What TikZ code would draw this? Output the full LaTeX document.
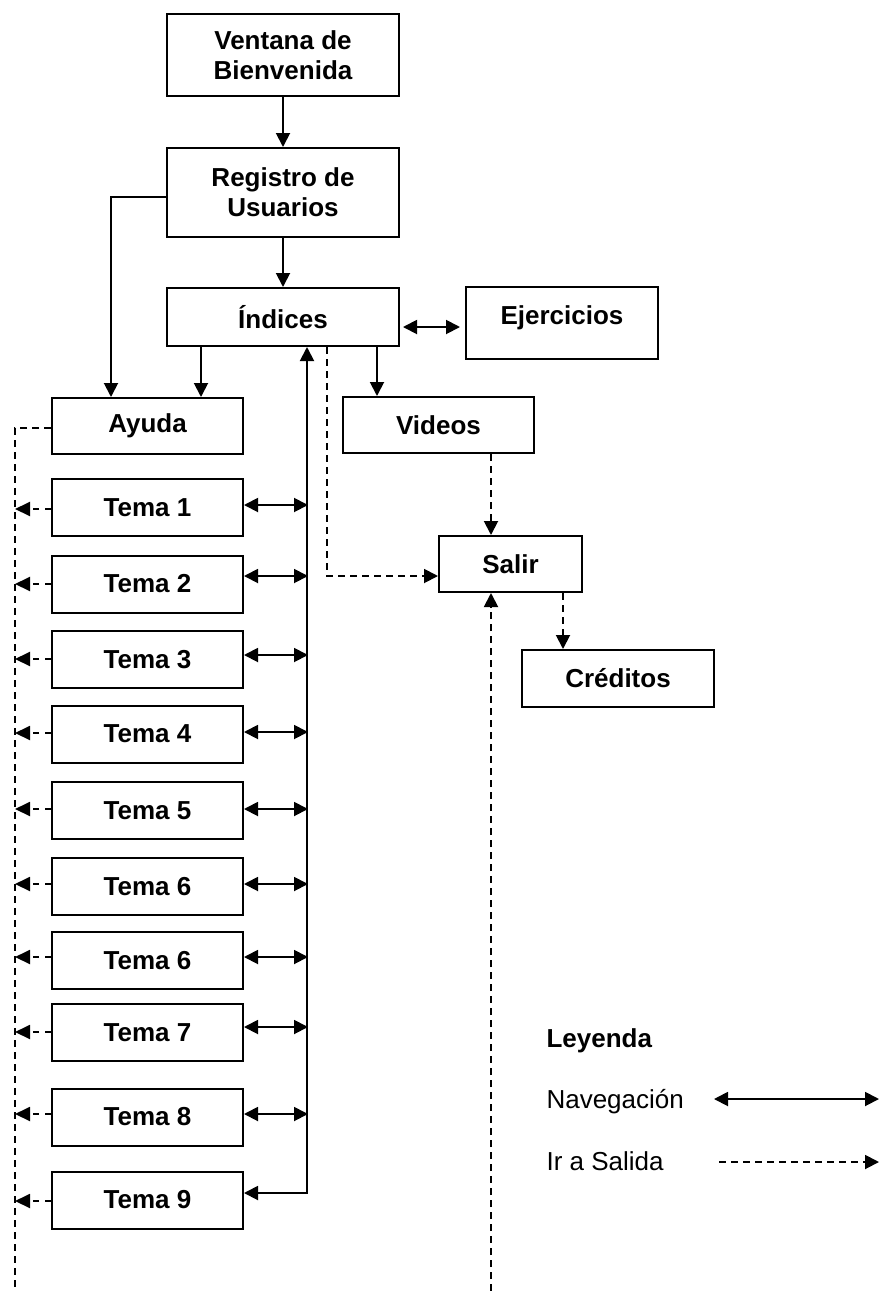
\documentclass[tikz,border=0pt]{standalone}
\usepackage{fontspec}
\setmainfont{Liberation Sans}
\usetikzlibrary{arrows.meta,calc}
\begin{document}
\begin{tikzpicture}[x=1pt,y=-1pt,
  every node/.style={font=\fontsize{26}{30}\selectfont},
  box/.style={draw,line width=2pt,align=center,inner sep=0pt,font=\fontsize{26}{30}\selectfont\bfseries},
  tema/.style={box,minimum width=191pt,minimum height=57pt},
  nav/.style={line width=1.9pt,-{Triangle[length=14pt,width=14pt]}},
  dbl/.style={line width=1.9pt,{Triangle[length=14pt,width=14pt]}-{Triangle[length=14pt,width=14pt]}},
  dsh/.style={line width=1.9pt,dash pattern=on 7pt off 5pt},
  dsharr/.style={dsh,-{Triangle[length=14pt,width=14pt]}},
  shortexit/.style={line width=1.9pt,dash pattern=on 6pt off 6pt,-{Triangle[length=15pt,width=14pt]}}]
\useasboundingbox (0,0) rectangle (881,1291);

% main chain
\node[box,minimum width=232pt,minimum height=82pt] (ven) at (283,55) {Ventana de\\Bienvenida};
\node[box,minimum width=232pt,minimum height=89pt] (reg) at (283,192.5) {Registro de\\Usuarios};
\node[box,minimum width=232pt,minimum height=58pt] (ind) at (283,317) {Índices};
\node[box,minimum width=192pt,minimum height=72pt] (ej) at (562,323) {};
\node[font=\fontsize{26}{30}\selectfont\bfseries,anchor=base] (ejt) at (562,324) {Ejercicios};
\node[box,minimum width=191pt,minimum height=56pt] (ay) at (147.5,426) {Ayuda};
\node[box,minimum width=191pt,minimum height=56pt] (vid) at (438.5,425) {Videos};
\node[box,minimum width=143pt,minimum height=56pt] (sal) at (510.5,564) {Salir};
\node[box,minimum width=192pt,minimum height=57pt] (cre) at (618,678.5) {Créditos};

% topic boxes
\node[tema] (t1) at (147.5,507.5) {Tema 1};
\node[tema] (t2) at (147.5,584) {Tema 2};
\node[tema] (t3) at (147.5,659.5) {Tema 3};
\node[tema] (t4) at (147.5,734) {Tema 4};
\node[tema] (t5) at (147.5,810.5) {Tema 5};
\node[tema] (t6) at (147.5,886.5) {Tema 6};
\node[tema] (t6b) at (147.5,960.5) {Tema 6};
\node[tema] (t7) at (147.5,1032.5) {Tema 7};
\node[tema] (t8) at (147.5,1117) {Tema 8};
\node[tema] (t9) at (147.5,1200) {Tema 9};

% free ends of the exit lines
\coordinate (leftend) at (15,1291);
\coordinate (salend) at (491,1291);

% navigation
\draw[nav] (ven) -- (reg);
\draw[nav] (reg) -- (ind);
\draw[nav] ([yshift=-4.5pt]reg.west) -| ([xshift=-36.5pt]ay.north);
\draw[nav] ([xshift=-82pt]ind.south) -- ([xshift=53.5pt]ay.north);
\draw[nav] ([xshift=94pt]ind.south) -- ([xshift=-61.5pt]vid.north);
\draw[dbl,shorten <=3pt,shorten >=5pt] ([yshift=-10pt]ind.east) -- ([yshift=-4pt]ej.west);

% bus from the topics back to the index
\draw[dbl] ([xshift=24pt]ind.south) |- ([yshift=7pt]t9.east);
\foreach \t/\d in {t1/-2.5,t2/-8,t3/-4.5,t4/-2,t5/-1.5,t6/-2.5,t6b/-3.5,t7/-5.5,t8/-3}{
  \draw[dbl] ($(\t.east)+(0,\d)$) -- ($(\t.east)+(64,\d)$);
}

% exit paths
\draw[dsh] ([yshift=-2pt]ay.west) -| (leftend);
\foreach \t/\d in {t1/1.5,t2/0,t3/-0.5,t4/-1,t5/-1.5,t6/-2.5,t6b/-3.5,t7/-0.5,t8/-3,t9/1}{
  \draw[shortexit] ($(\t.west)+(0,\d)$) -- ($(\t.west)+(-36,\d)$);
}
\draw[dsharr] ([xshift=52.5pt]vid.south) -- ([xshift=-19.5pt]sal.north);
\draw[dsharr] ([xshift=44pt]ind.south) |- ([yshift=-12pt]sal.west);
\draw[dsharr] ([xshift=52.5pt]sal.south) -- ([xshift=-55pt]cre.north);
\draw[dsharr] (salend) -- ([xshift=-19.5pt]sal.south);

% legend
\node[anchor=base west,font=\fontsize{26}{30}\selectfont\bfseries] (ley) at (543,1047) {Leyenda};
\node[anchor=base west] (lnav) at (543,1108) {Navegación};
\node[anchor=base west] (lsal) at (543,1170) {Ir a Salida};
\coordinate (n1) at (714,1099);
\coordinate (n2) at (879,1099);
\coordinate (s1) at (719,1162);
\coordinate (s2) at (879,1162);
\draw[dbl] (n1) -- (n2);
\draw[dsharr] (s1) -- (s2);
\end{tikzpicture}
\end{document}
